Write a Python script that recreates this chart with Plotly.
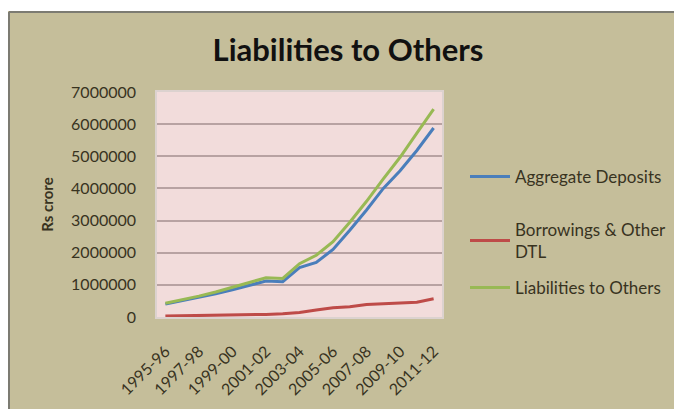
import plotly.graph_objects as go

# Financial years on the category axis
years = ["1995-96", "1996-97", "1997-98", "1998-99", "1999-00", "2000-01",
         "2001-02", "2002-03", "2003-04", "2004-05", "2005-06", "2006-07",
         "2007-08", "2008-09", "2009-10", "2010-11", "2011-12"]

# Values in Rs crore
aggregate_deposits = [400000, 500000, 600000, 720000, 850000, 980000,
                      1120000, 1100000, 1540000, 1700000, 2100000, 2700000,
                      3330000, 4000000, 4550000, 5180000, 5880000]
borrowings_other_dtl = [30000, 35000, 40000, 50000, 60000, 70000,
                        80000, 100000, 140000, 220000, 290000, 320000,
                        390000, 410000, 430000, 460000, 570000]
liabilities_to_others = [430000, 530000, 650000, 780000, 920000, 1060000,
                         1220000, 1200000, 1660000, 1920000, 2340000, 2950000,
                         3600000, 4300000, 4970000, 5720000, 6470000]

shown_ticks = years[::2]
y_ticks = [0, 1000000, 2000000, 3000000, 4000000, 5000000, 6000000, 7000000]

FONT = "Lato"
TEXT = "#38331f"

# Plot-area placement in pixels
W, H = 674, 409
L, R, T, B = 157, 442, 92, 317
PW, PH = R - L, B - T


def px_x(x):
    return (x - L) / PW


def px_y(y):
    return (B - y) / PH


fig = go.Figure()
series = [
    ("Aggregate Deposits", aggregate_deposits, "#4a7ebb", "legend"),
    ("Borrowings & Other<br>DTL", borrowings_other_dtl, "#be4b48", "legend2"),
    ("Liabilities to Others", liabilities_to_others, "#98b954", "legend3"),
]
for name, vals, color, leg in series:
    fig.add_trace(go.Scatter(
        x=years, y=vals, name=name, mode="lines",
        line=dict(color=color, width=3),
        legend=leg, showlegend=True,
    ))

legend_style = dict(
    x=px_x(465), xanchor="left", yanchor="middle",
    bgcolor="rgba(0,0,0,0)", borderwidth=0, itemwidth=40,
    font=dict(family=FONT, size=17, color=TEXT),
)

fig.update_layout(
    width=W, height=H,
    margin=dict(l=L, r=W - R, t=T, b=H - B, autoexpand=False),
    paper_bgcolor="#c5be9a",
    plot_bgcolor="#f2dcdb",
    showlegend=True,
    title=dict(
        text="<b>Liabilities to Others</b>",
        xref="container", x=348 / W, xanchor="center",
        yref="container", y=1 - 50 / H, yanchor="middle",
        font=dict(family=FONT, size=31, color="#111111"),
    ),
    xaxis=dict(
        type="category",
        range=[-0.5, len(years) - 0.5],
        tickmode="array", tickvals=shown_ticks, ticktext=shown_ticks,
        tickangle=-45,
        tickfont=dict(family=FONT, size=16, color=TEXT),
        showgrid=False, zeroline=False,
        showline=True, linecolor="#dcd2cf", linewidth=1.5, mirror=True,
        ticks="", ticklabelstandoff=17,
    ),
    yaxis=dict(
        range=[0, 7000000],
        tickmode="array", tickvals=y_ticks, tickformat="d",
        tickfont=dict(family=FONT, size=16, color=TEXT),
        showgrid=True, gridcolor="#b8a2a2", gridwidth=1.5,
        zeroline=False,
        showline=True, linecolor="#dcd2cf", linewidth=1.5, mirror=True,
        ticks="", ticklabelstandoff=16,
        title=dict(text="<b>Rs crore</b>", standoff=14,
                   font=dict(family=FONT, size=15, color=TEXT)),
    ),
    legend=dict(y=px_y(177), **legend_style),
    legend2=dict(y=px_y(241), **legend_style),
    legend3=dict(y=px_y(288), **legend_style),
    shapes=[
        # white surround outside the chart frame
        dict(type="rect", xref="paper", yref="paper", layer="below",
             x0=px_x(-20), x1=px_x(8), y0=px_y(W), y1=px_y(-20),
             fillcolor="white", line=dict(width=0)),
        dict(type="rect", xref="paper", yref="paper", layer="below",
             x0=px_x(-20), x1=px_x(W + 20), y0=px_y(11), y1=px_y(-20),
             fillcolor="white", line=dict(width=0)),
        # frame edges
        dict(type="line", xref="paper", yref="paper",
             x0=px_x(9), x1=px_x(9), y0=px_y(12), y1=px_y(H + 10),
             line=dict(color="#7c7b72", width=2)),
        dict(type="line", xref="paper", yref="paper",
             x0=px_x(9), x1=px_x(W + 10), y0=px_y(12), y1=px_y(12),
             line=dict(color="#7c7b72", width=2)),
    ],
)

fig.write_html("out.html")
